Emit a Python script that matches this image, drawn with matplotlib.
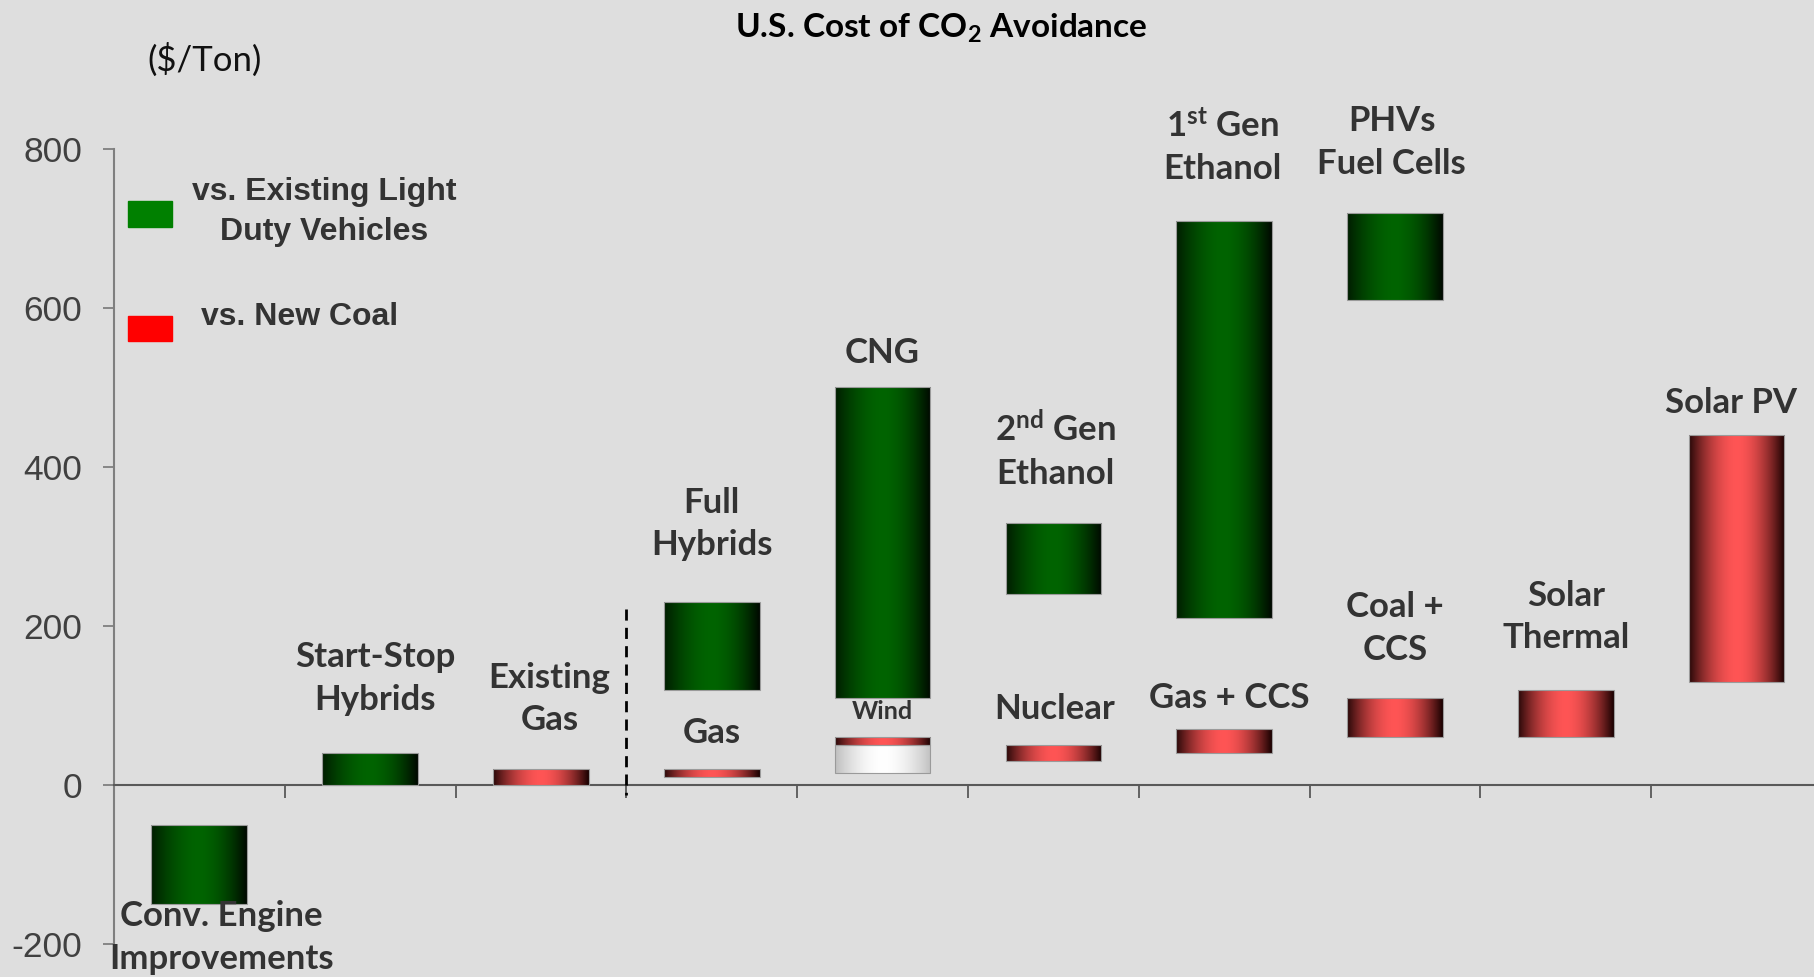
import numpy as np
import matplotlib
matplotlib.use("Agg")
import matplotlib.pyplot as plt
from matplotlib.patches import Rectangle

# ---- data -------------------------------------------------------------
categories = ["Conv. Engine", "Start-Stop", "Existing Gas", "Full Hybrids", "CNG",
              "2nd Gen Ethanol", "1st Gen Ethanol", "PHVs Fuel Cells",
              "Solar Thermal", "Solar PV"]

# cost ranges vs. existing light duty vehicles (green)
ldv_pos = [0, 1, 3, 4, 5, 6, 7]
ldv_low = [-150, 0, 120, 110, 240, 210, 610]
ldv_high = [-50, 40, 230, 500, 330, 710, 720]
ldv_names = ["Conv. Engine\nImprovements", "Start-Stop\nHybrids", "Full\nHybrids", "CNG",
             "2$^{\\mathrm{nd}}$ Gen\nEthanol", "1$^{\\mathrm{st}}$ Gen\nEthanol",
             "PHVs\nFuel Cells"]

# cost ranges vs. new coal (red)
coal_pos = [2, 3, 4, 5, 6, 7, 8, 9]
coal_low = [0, 10, 50, 30, 40, 60, 60, 130]
coal_high = [20, 20, 60, 50, 70, 110, 120, 440]
coal_names = ["Existing\nGas", "Gas", "Wind", "Nuclear", "Gas + CCS", "Coal +\nCCS",
              "Solar\nThermal", "Solar PV"]

# wind extension below its red segment
wind_pos = [4]
wind_low = [15]
wind_high = [50]

y_ticks = [-200, 0, 200, 400, 600, 800]

# ---- label placement (data coords) -------------------------------------
ldv_label_xy = [(0.13, -192), (1.03, 134), (3.0, 328), (4.0, 544), (5.01, 421),
                (5.99, 803), (6.98, 808)]
coal_label_xy = [(2.05, 108), (3.0, 65), (4.0, 93), (5.01, 96), (6.03, 109),
                 (7.0, 197), (8.0, 211), (8.97, 480)]
coal_label_size = [25, 25, 18, 25, 25, 25, 25, 25]

# ---- style -------------------------------------------------------------
BG = "#dedede"
TXT = "#333333"
LAB_FONT = "Lato"
plt.rcParams["mathtext.fontset"] = "custom"
plt.rcParams["mathtext.rm"] = "Lato:bold"
plt.rcParams["mathtext.it"] = "Lato:bold"
plt.rcParams["mathtext.bf"] = "Lato:bold"

fig = plt.figure(figsize=(18.14, 9.77), dpi=100, facecolor=BG)
ax = fig.add_axes([0.0628, 0.0338, 0.9416, 0.8137])
ax.set_facecolor(BG)

BAR_W = 0.56


def shade(edge_l, center, edge_r, n=256, p=1.8):
    u = np.linspace(0, 1, n)
    t = np.abs(2 * u - 1) ** p
    edge = np.where(u[:, None] < 0.5, np.array(edge_l)[None, :], np.array(edge_r)[None, :])
    c = np.array(center)[None, :]
    img = c + (edge - c) * t[:, None]
    return (img / 255.0)[None, :, :]


def gradient_bars(pos, low, high, edge_l, center, edge_r, z):
    heights = [h - l for l, h in zip(low, high)]
    bars = ax.bar(pos, heights, bottom=low, width=BAR_W, color="none",
                  edgecolor="#9a9a9a", linewidth=0.8, zorder=z + 1)
    img = shade(edge_l, center, edge_r)
    for patch in bars.patches:
        x0, y0 = patch.get_xy()
        w, h = patch.get_width(), patch.get_height()
        im = ax.imshow(img, extent=[x0, x0 + w, y0, y0 + h], aspect="auto",
                       interpolation="bilinear", zorder=z)
        im.set_clip_path(patch)
    return bars


gradient_bars(ldv_pos, ldv_low, ldv_high, (0, 28, 0), (0, 100, 0), (0, 8, 0), 3)
gradient_bars(coal_pos, coal_low, coal_high, (40, 8, 8), (255, 85, 85), (25, 0, 0), 3)
gradient_bars(wind_pos, wind_low, wind_high, (190, 190, 190), (255, 255, 255), (192, 192, 192), 3)

# separator between vehicle and power options
ax.plot([2.5, 2.5], [221, -12], ls=(0, (4, 2.6)), color="black", lw=2, zorder=5,
        clip_on=False)

# ---- axes ---------------------------------------------------------------
ax.set_xlim(-0.5, 9.5)
ax.set_ylim(-200, 800)
ax.set_yticks(y_ticks)
ax.set_yticklabels([str(v) for v in y_ticks], fontfamily="Liberation Sans",
                   fontsize=25.5, color="#404040")
ax.set_xticks(np.arange(-0.5, 10, 1))
ax.set_xticklabels([])
ax.tick_params(axis="x", direction="out", length=9, width=1.3, color="#595959")
ax.tick_params(axis="y", direction="out", length=8, width=1.3, color="#7f7f7f", pad=15)
for s in ("top", "right"):
    ax.spines[s].set_visible(False)
ax.spines["bottom"].set_position(("data", 0))
ax.spines["bottom"].set_color("#595959")
ax.spines["bottom"].set_linewidth(1.5)
ax.spines["left"].set_color("#7f7f7f")
ax.spines["left"].set_linewidth(1.5)

# ---- labels -------------------------------------------------------------
lab_kw = dict(ha="center", va="center", color=TXT, fontfamily=LAB_FONT,
              fontweight="bold", linespacing=1.4, clip_on=False, zorder=6)
for name, (x, y) in zip(ldv_names, ldv_label_xy):
    ax.text(x, y, name, fontsize=25, **lab_kw)
for name, (x, y), fs in zip(coal_names, coal_label_xy, coal_label_size):
    ax.text(x, y, name, fontsize=fs, **lab_kw)

fig.text(0.5187, 0.9705, "U.S. Cost of CO$_2$ Avoidance", ha="center", va="center",
         fontsize=24, fontfamily=LAB_FONT, fontweight="bold", color="black")
fig.text(0.113, 0.939, "($/Ton)", ha="center", va="center", fontsize=25,
         fontfamily=LAB_FONT, color="#111111")

# ---- legend -------------------------------------------------------------
W, H = fig.get_size_inches() * fig.dpi
fig.patches.append(Rectangle((128 / W, 1 - 227 / H), 44 / W, 26 / H,
                             transform=fig.transFigure, color="#008000"))
fig.patches.append(Rectangle((128 / W, 1 - 341 / H), 44 / W, 25 / H,
                             transform=fig.transFigure, color="#ff0000"))
leg_kw = dict(ha="center", va="center", fontsize=23, fontfamily="Liberation Sans",
              fontweight="bold", color=TXT, linespacing=1.45)
fig.text(324 / W, 1 - 212 / H, "vs. Existing Light\nDuty Vehicles", **leg_kw)
fig.text(300 / W, 1 - 317 / H, "vs. New Coal", **leg_kw)

fig.savefig("out.png", dpi=100, facecolor=BG)
